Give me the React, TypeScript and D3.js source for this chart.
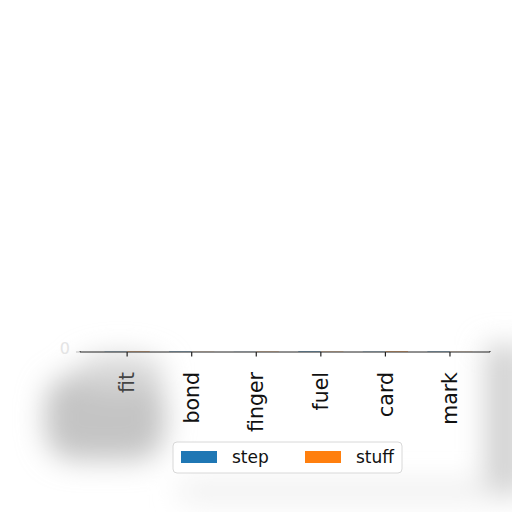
import { useMemo } from "react";
import * as d3 from "d3";

const categories = ["fit", "bond", "finger", "fuel", "card", "mark"];
const stepValues = [2, 3, 1, 4, 2, 3];
const stuffValues = [3, 1, 2, 2, 4, 1];
const seriesNames = ["step", "stuff"];
const yTicks = [0];

const COLORS = ["#1f77b4", "#ff7f0e"];
const WIDTH = 512;
const HEIGHT = 512;
const AXES = { left: 80, right: 490, top: 351, bottom: 352 };
const BAR_WIDTH = 0.35;
const FONT = "DejaVu Sans, sans-serif";

export default function App() {
  const xScale = useMemo(
    () => d3.scaleLinear().domain([-0.73, 5.62]).range([AXES.left, AXES.right]),
    []
  );
  const yScale = useMemo(() => {
    const max = d3.max([...stepValues, ...stuffValues]) ?? 1;
    return d3.scaleLinear().domain([0, max]).range([AXES.bottom, AXES.top]);
  }, []);

  const series = [stepValues, stuffValues];

  const bars = series.flatMap((values, s) =>
    values.map((v, i) => {
      const x0 = xScale(i + (s === 0 ? -BAR_WIDTH : 0));
      const x1 = xScale(i + (s === 0 ? 0 : BAR_WIDTH));
      return (
        <rect
          key={`${s}-${i}`}
          x={x0}
          width={x1 - x0}
          y={yScale(v)}
          height={AXES.bottom - yScale(v)}
          fill={COLORS[s]}
          fillOpacity={0.5}
        />
      );
    })
  );

  return (
    <svg
      width={WIDTH}
      height={HEIGHT}
      style={{ position: "absolute", left: 0, top: 0, background: "#fff" }}
    >
      <defs>
        <filter id="smudge" x="-60%" y="-60%" width="220%" height="220%">
          <feGaussianBlur stdDeviation="14" />
        </filter>
        <filter id="soft" x="-20%" y="-100%" width="140%" height="300%">
          <feGaussianBlur stdDeviation="0.6" />
        </filter>
      </defs>

      {/* blurred grey smudges seen in the picture */}
      <g filter="url(#smudge)">
        <rect x={45} y={375} width={120} height={85} rx={30} fill="#c4c4c4" />
        <ellipse cx={120} cy={372} rx={45} ry={18} fill="#d8d8d8" />
        <rect x={485} y={345} width={40} height={150} fill="#d2d2d2" />
        <rect x={180} y={482} width={310} height={18} fill="#ececec" />
      </g>

      {bars}

      {/* spines */}
      <g filter="url(#soft)">
        <line x1={AXES.left} x2={AXES.right} y1={AXES.bottom} y2={AXES.bottom} stroke="#222" strokeWidth={1.2} />
        <line x1={AXES.left} x2={AXES.left} y1={AXES.top} y2={AXES.bottom} stroke="#222" />
        <line x1={AXES.right} x2={AXES.right} y1={AXES.top} y2={AXES.bottom} stroke="#222" />
      </g>

      {/* y ticks */}
      {yTicks.map((t) => (
        <g key={t} transform={`translate(${AXES.left},${yScale(t)})`}>
          <line x1={-4} x2={0} stroke="#bbb" />
          <text
            x={-10}
            dy="0.1em"
            textAnchor="end"
            fontFamily={FONT}
            fontSize={16}
            fill="#e4e4e4"
          >
            {t}
          </text>
        </g>
      ))}

      {/* x ticks */}
      {categories.map((c, i) => (
        <g key={c} transform={`translate(${xScale(i)},${AXES.bottom})`}>
          <line y1={0} y2={4.5} stroke="#222" strokeWidth={1.2} />
          <text
            transform="translate(0,20) rotate(-90)"
            textAnchor="end"
            dy="0.35em"
            fontFamily={FONT}
            fontSize={20.5}
            fill={i === 0 ? "#444" : "#111"}
          >
            {c}
          </text>
        </g>
      ))}

      {/* legend */}
      <g transform="translate(173,442)">
        <rect
          width={229}
          height={31}
          rx={4}
          fill="#fff"
          fillOpacity={0.85}
          stroke="#d8d8d8"
        />
        {seriesNames.map((n, i) => (
          <g key={n} transform={`translate(${8 + i * 124},0)`}>
            <rect x={0} y={9} width={36} height={12} fill={COLORS[i]} />
            <text
              x={51}
              y={15}
              dy="0.35em"
              fontFamily={FONT}
              fontSize={17}
              fill="#111"
            >
              {n}
            </text>
          </g>
        ))}
      </g>
    </svg>
  );
}
